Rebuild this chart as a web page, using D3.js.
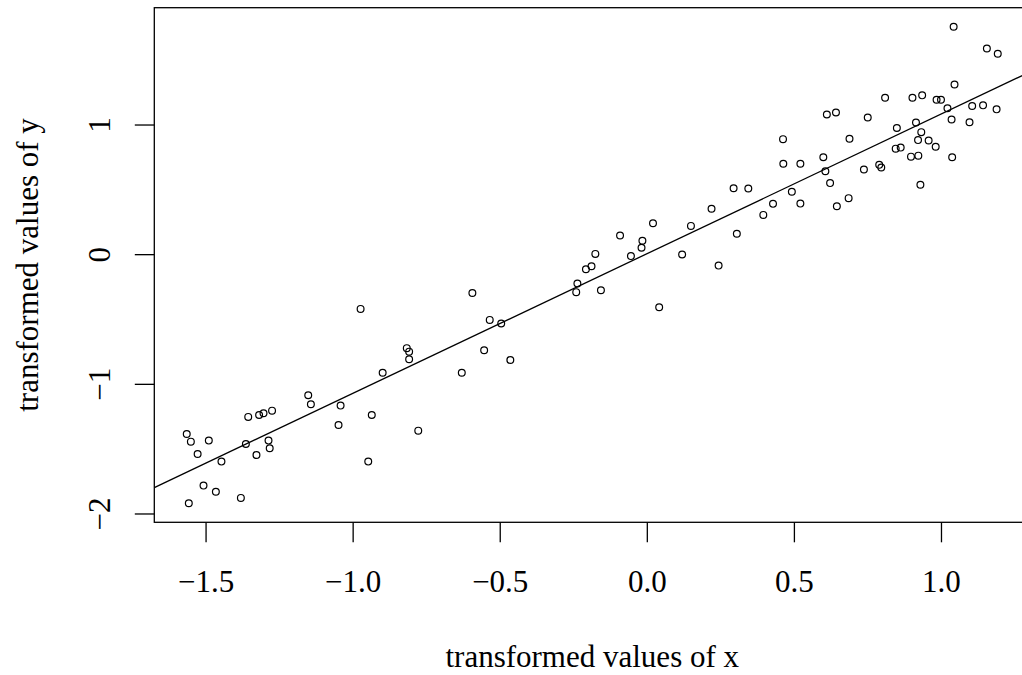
<!DOCTYPE html>
<html>
<head>
<meta charset="utf-8">
<script src="https://cdn.jsdelivr.net/npm/d3@7"></script>
<style>
  body { margin: 0; background: #fff; }
  svg { display: block; }
  text { font-family: "Liberation Serif", "DejaVu Serif", serif; fill: #000; }
</style>
</head>
<body>
<svg id="chart" width="1022" height="675"></svg>
<script>
// transformed x / y
const xValues = [
  -0.973, -0.816, -0.808, -0.808, -0.898, -1.151, -1.142, -1.041, -0.935, -1.048,
  -0.777, -0.947, -1.355, -1.318, -1.303, -1.274, -1.564, -1.550, -1.489, -1.527,
  -1.446, -1.363, -1.286, -1.282, -1.327, -1.507, -1.465, -1.557, -1.380,
  -0.593, -0.534, -0.495, -0.553, -0.464, -0.629, -0.240, -0.236, -0.207, -0.188,
  -0.175, -0.156, -0.091, -0.054, -0.018, -0.015, 0.021, 0.042, 0.120, 0.150,
  0.244, 0.220, 0.295, 0.306,
  1.043, 1.156, 1.193, 1.046, 0.810, 0.903, 0.936, 0.985, 1.000, 0.612,
  0.643, 0.751, 1.022, 1.106, 1.143, 1.189, 1.036, 1.097, 0.850, 0.915,
  0.933, 0.922, 0.958, 0.982, 0.846, 0.863, 0.898, 0.923, 1.038, 0.930,
  0.463, 0.689, 0.464, 0.522, 0.600, 0.607, 0.623, 0.738, 0.790, 0.797,
  0.345, 0.493, 0.429, 0.396, 0.522, 0.646, 0.686
];
const yValues = [
  -0.422, -0.725, -0.752, -0.810, -0.914, -1.088, -1.157, -1.168, -1.240, -1.317,
  -1.361, -1.600, -1.255, -1.240, -1.227, -1.207, -1.387, -1.446, -1.438, -1.541,
  -1.600, -1.464, -1.438, -1.497, -1.549, -1.785, -1.832, -1.921, -1.880,
  -0.299, -0.507, -0.535, -0.741, -0.816, -0.914, -0.293, -0.227, -0.116, -0.093,
  0.002, -0.278, 0.144, -0.015, 0.049, 0.103, 0.239, -0.409, -0.003, 0.218,
  -0.088, 0.350, 0.509, 0.157,
  1.754, 1.586, 1.546, 1.309, 1.206, 1.206, 1.225, 1.191, 1.191, 1.077,
  1.093, 1.054, 1.125, 1.143, 1.148, 1.117, 1.039, 1.017, 0.973, 1.015,
  0.941, 0.880, 0.877, 0.828, 0.814, 0.822, 0.752, 0.760, 0.747, 0.535,
  0.887, 0.890, 0.697, 0.697, 0.748, 0.640, 0.548, 0.653, 0.689, 0.668,
  0.506, 0.481, 0.388, 0.303, 0.390, 0.370, 0.432
];

// fitted line y = a + b x
const fitIntercept = 0.003;
const fitSlope = 1.077;

const xTicks = [-1.5, -1.0, -0.5, 0.0, 0.5, 1.0];
const yTicks = [-2, -1, 0, 1];

const xTitle = 'transformed values of x';
const yTitle = 'transformed values of y';

const points = xValues.map((x, i) => ({ x: x, y: yValues[i] }));

// plot region (R style: 4% padding on the data range)
const plotLeft = 154.3, plotTop = 7.7, plotBottom = 522.3, plotRight = 1030.2;
const fontSize = 31;

function padded(vals) {
  const ext = d3.extent(vals);
  const p = (ext[1] - ext[0]) * 0.04;
  return [ext[0] - p, ext[1] + p];
}

const xScale = d3.scaleLinear().domain(padded(xValues)).range([plotLeft, plotRight]);
const yScale = d3.scaleLinear().domain(padded(yValues)).range([plotBottom, plotTop]);

const svg = d3.select('#chart');

svg.append('defs').append('clipPath').attr('id', 'plotclip')
  .append('rect')
  .attr('x', plotLeft).attr('y', plotTop)
  .attr('width', plotRight - plotLeft).attr('height', plotBottom - plotTop);

// x axis
const xAxis = svg.append('g')
  .attr('transform', `translate(0,${plotBottom})`)
  .call(d3.axisBottom(xScale)
    .tickValues(xTicks)
    .tickFormat(d3.format('.1f'))
    .tickSize(20)
    .tickPadding(27.5)
    .tickSizeOuter(0));
xAxis.select('.domain').remove();
xAxis.selectAll('line').attr('stroke', '#000').attr('stroke-width', 1.3);
xAxis.selectAll('text')
  .style('font-family', '"Liberation Serif", serif')
  .style('font-size', fontSize + 'px');

// y axis, labels turned like R's las = 0
const yAxis = svg.append('g')
  .attr('transform', `translate(${plotLeft},0)`)
  .call(d3.axisLeft(yScale)
    .tickValues(yTicks)
    .tickFormat(d3.format('d'))
    .tickSize(19.5)
    .tickSizeOuter(0));
yAxis.select('.domain').remove();
yAxis.selectAll('line').attr('stroke', '#000').attr('stroke-width', 1.3);
yAxis.selectAll('text')
  .attr('transform', 'rotate(-90)')
  .attr('x', 0)
  .attr('y', 110 - plotLeft)
  .attr('dy', 0)
  .attr('text-anchor', 'middle')
  .style('font-family', '"Liberation Serif", serif')
  .style('font-size', fontSize + 'px');

// box
svg.append('rect')
  .attr('x', plotLeft).attr('y', plotTop)
  .attr('width', plotRight - plotLeft).attr('height', plotBottom - plotTop)
  .attr('fill', 'none')
  .attr('stroke', '#000')
  .attr('stroke-width', 1.3);

// regression line
const xd = xScale.domain();
svg.append('line')
  .attr('clip-path', 'url(#plotclip)')
  .attr('x1', xScale(xd[0])).attr('y1', yScale(fitIntercept + fitSlope * xd[0]))
  .attr('x2', xScale(xd[1])).attr('y2', yScale(fitIntercept + fitSlope * xd[1]))
  .attr('stroke', '#000')
  .attr('stroke-width', 1.3);

// points
svg.append('g')
  .selectAll('circle')
  .data(points)
  .join('circle')
  .attr('cx', d => xScale(d.x))
  .attr('cy', d => yScale(d.y))
  .attr('r', 3.4)
  .attr('fill', 'none')
  .attr('stroke', '#000')
  .attr('stroke-width', 1.2);

// axis titles
svg.append('text')
  .attr('x', (plotLeft + plotRight) / 2)
  .attr('y', 666.5)
  .attr('text-anchor', 'middle')
  .style('font-size', fontSize + 'px')
  .text(xTitle);

svg.append('text')
  .attr('transform', `translate(38,${(plotTop + plotBottom) / 2}) rotate(-90)`)
  .attr('text-anchor', 'middle')
  .style('font-size', fontSize + 'px')
  .text(yTitle);
</script>
</body>
</html>
